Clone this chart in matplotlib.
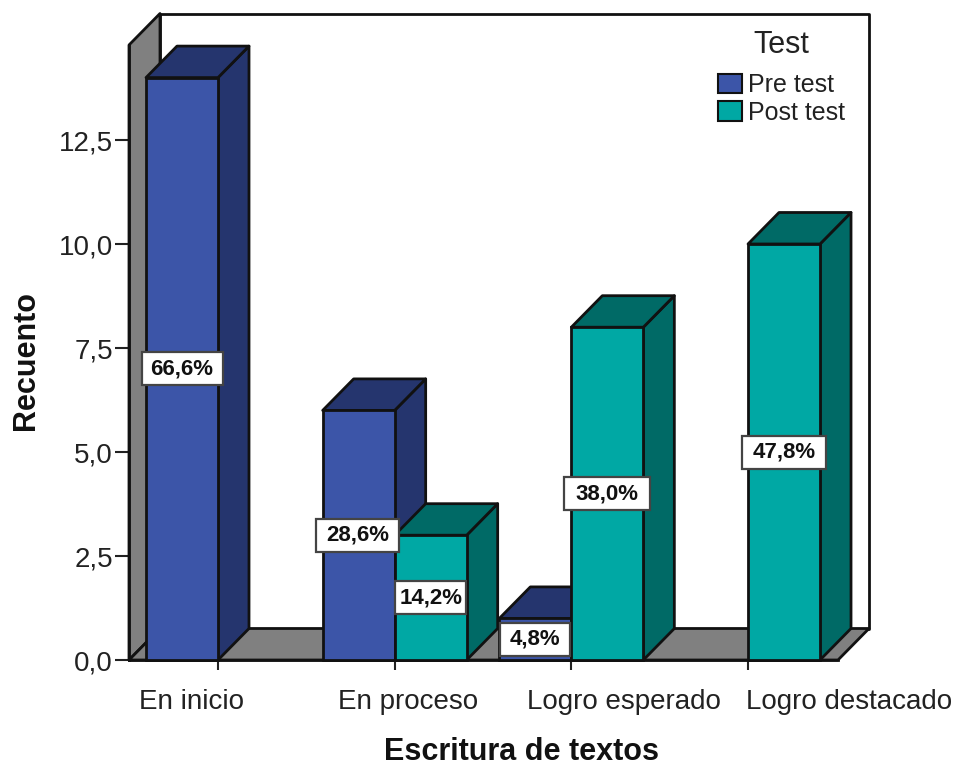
import matplotlib
matplotlib.use('Agg')
import matplotlib.pyplot as plt
from matplotlib.patches import Patch, Polygon, Rectangle
from matplotlib.ticker import FuncFormatter
from matplotlib.transforms import ScaledTranslation

categories = ['En inicio', 'En proceso', 'Logro esperado', 'Logro destacado']
pre_test = [14, 6, 1, 0]
post_test = [0, 3, 8, 10]
pre_labels = ['66,6%', '28,6%', '4,8%', '']
post_labels = ['', '14,2%', '38,0%', '47,8%']
y_ticks = [0, 2.5, 5, 7.5, 10, 12.5]

plt.rcParams['font.family'] = ['Liberation Sans', 'DejaVu Sans']

W, H = 955, 767
px_x = 176.67   # pixels per category
px_y = 41.6     # pixels per count
dx = 31 / px_x
dy = 31.5 / px_y
bar_w = 72 / px_x
EDGE = '#111111'
LW = 2.0
blue = ('#3c55a8', '#25356e')
teal = ('#00a8a4', '#006a66')

fig = plt.figure(figsize=(W / 100, H / 100), dpi=100, facecolor='white')
ax = fig.add_axes([129 / W, (H - 660) / H, 709 / W, 615 / H])
x0 = -(218 - 129) / px_x
x1 = (838 - 218) / px_x
ytop = 615 / px_y
ax.set_xlim(x0, x1)
ax.set_ylim(0, ytop)
ax.patch.set_visible(False)


def poly(points, color, z):
    ax.add_patch(Polygon(points, closed=True, facecolor=color, edgecolor=EDGE,
                         linewidth=LW, clip_on=False, zorder=z, joinstyle='round'))


# walls and floor
poly([(x0 + dx, dy), (x1 + dx, dy), (x1 + dx, ytop + dy), (x0 + dx, ytop + dy)], 'white', 1)
poly([(x0, 0), (x0 + dx, dy), (x0 + dx, ytop + dy), (x0, ytop)], '#808080', 2)
poly([(x0, 0), (x1, 0), (x1 + dx, dy), (x0 + dx, dy)], '#808080', 2)


def bar3d(left, val, cols, z):
    right = left + bar_w
    poly([(right, 0), (right + dx, dy), (right + dx, val + dy), (right, val)], cols[1], z)
    poly([(left, val), (right, val), (right + dx, val + dy), (left + dx, val + dy)], cols[1], z)
    ax.bar(left, val, bar_w, align='edge', color=cols[0], edgecolor=EDGE,
           linewidth=LW, zorder=z + 0.5, clip_on=False)


def tag(cx, cy, txt, w_px):
    w = w_px / px_x
    h = 33 / px_y
    ax.add_patch(Rectangle((cx - w / 2, cy - h / 2), w, h, facecolor='white',
                           edgecolor='#444444', linewidth=1.6, zorder=50, clip_on=False))
    ax.text(cx, cy, txt, ha='center', va='center', fontsize=16, fontweight='bold',
            color='#111111', zorder=51)


z = 10
for i in range(len(categories)):
    if pre_test[i] > 0:
        bar3d(i - bar_w, pre_test[i], blue, z)
        z += 1
    if post_test[i] > 0:
        bar3d(i, post_test[i], teal, z)
        z += 1

pre_box = [81, 83, 70, 0]
post_box = [0, 71, 86, 84]
for i in range(len(categories)):
    if pre_labels[i]:
        cx = i - bar_w / 2
        if i == 1:
            cx -= 1 / px_x
        tag(cx, pre_test[i] / 2, pre_labels[i], pre_box[i])
    if post_labels[i]:
        tag(i + bar_w / 2, post_test[i] / 2, post_labels[i], post_box[i])

# axes
for s in ['top', 'right']:
    ax.spines[s].set_visible(False)
for s in ['left', 'bottom']:
    ax.spines[s].set_linewidth(LW)
    ax.spines[s].set_color(EDGE)
    ax.spines[s].set_zorder(5)

ax.set_yticks(y_ticks)
ax.yaxis.set_major_formatter(FuncFormatter(lambda v, p: f'{v:.1f}'.replace('.', ',')))
ax.tick_params(axis='y', labelsize=20, length=10, width=1.5, color='#222222',
               labelcolor='#222222', pad=1.5)
ax.set_xticks(range(len(categories)))
ax.set_xticklabels(categories)
ax.tick_params(axis='x', labelsize=20, length=7.5, width=1.5, color='#222222',
               labelcolor='#222222', pad=13.5)

# the category labels are not centred under their ticks in the original
label_shift = [-26.5, 13.5, 52.5, 101]
for lab, s in zip(ax.get_xticklabels(), label_shift):
    lab.set_transform(lab.get_transform() + ScaledTranslation(s / 100, 0, fig.dpi_scale_trans))

ax.set_xlabel('Escritura de textos', fontsize=22, fontweight='bold', color='#111111')
ax.xaxis.set_label_coords((521 - 129) / 709, -(752.5 - 660) / 615, transform=ax.transAxes)
ax.xaxis.label.set_va('center')
ax.set_ylabel('Recuento', fontsize=22, fontweight='bold', color='#111111')
ax.yaxis.set_label_coords((26 - 129) / 709, (660 - 360) / 615, transform=ax.transAxes)
ax.yaxis.label.set_va('center')

handles = [Patch(facecolor=blue[0], edgecolor=EDGE, linewidth=1.5, label='Pre test'),
           Patch(facecolor=teal[0], edgecolor=EDGE, linewidth=1.5, label='Post test')]
leg = ax.legend(handles=handles, title='Test', frameon=False, fontsize=18,
                title_fontsize=22, handlelength=0.96, handleheight=0.8,
                handletextpad=0.24, labelspacing=0.14, borderpad=0, borderaxespad=0,
                loc='upper left', bbox_to_anchor=(718 / W, (H - 30) / H),
                bbox_transform=fig.transFigure)
leg._legend_box.sep = 9.5
leg.set_zorder(60)
for t in leg.get_texts():
    t.set_color('#222222')
leg.get_title().set_color('#222222')

fig.savefig('out.png', dpi=100, facecolor='white')
